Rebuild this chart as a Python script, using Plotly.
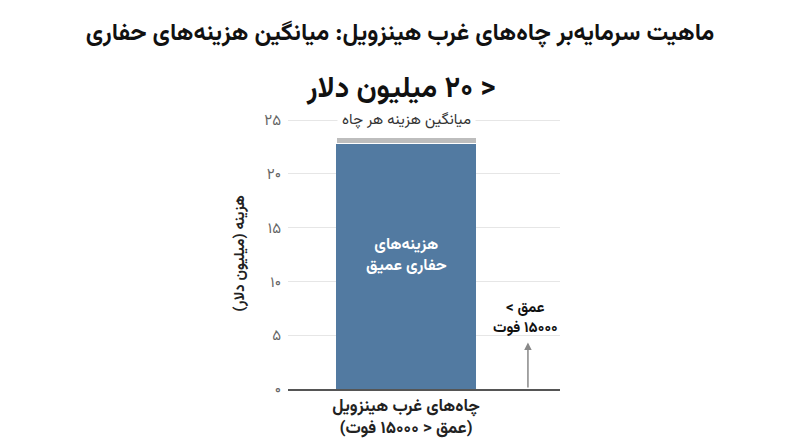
import plotly.graph_objects as go

# داده‌ها
title_text = "ماهیت سرمایه‌بر چاه‌های غرب هینزویل: میانگین هزینه‌های حفاری"
subtitle_text = "&lt; ۲۰ میلیون دلار"
categories = [0]
tick_lines = ["چاه‌های غرب هینزویل", "(عمق &lt; ۱۵۰۰۰ فوت)"]
deep_drilling = [22.8]
other_cost = [0.6]
y_ticks = [0, 5, 10, 15, 20, 25]
y_tick_text = ["۰", "۵", "۱۰", "۱۵", "۲۰", "۲۵"]
y_title = "هزینه (میلیون دلار)"
avg_label = "میانگین هزینه هر چاه"
bar_label = ["هزینه‌های", "حفاری عمیق"]
depth_label = ["عمق &gt;", "۱۵۰۰۰ فوت"]
depth_marker_x = 0.871
depth_marker_y = 4.33

FONT = "Vazirmatn, Noto Sans Arabic, DejaVu Sans, sans-serif"


def rtl(lines):
    # هر سطر در جهت راست به چپ
    if isinstance(lines, str):
        lines = [lines]
    return "<br>".join("\u202b" + s + "\u202c" for s in lines)


fig = go.Figure()
fig.add_trace(go.Bar(x=categories, y=deep_drilling, width=1,
                     marker=dict(color="#527aa1", line=dict(width=0)),
                     hoverinfo="skip"))
fig.add_trace(go.Bar(x=categories, y=other_cost, width=1,
                     marker=dict(color="#bdbdbd", line=dict(color="white", width=1)),
                     hoverinfo="skip"))

# صفحه ۸ پیکسل حاشیه دارد، پس همه چیز ۸ پیکسل بالاتر/چپ‌تر
fig.update_layout(
    barmode="stack",
    showlegend=False,
    width=800, height=447,
    margin=dict(l=280, r=248, t=110, b=66),
    paper_bgcolor="white", plot_bgcolor="white",
    font=dict(family=FONT, color="#222"),
    title=dict(text="<b>" + rtl(title_text) + "</b>",
               x=(400 - 8) / 800, xref="container", y=1 - 24 / 447, yref="container",
               xanchor="center", yanchor="middle",
               font=dict(size=24, color="#111", family=FONT)),
)

fig.update_xaxes(range=[-0.843, 1.1], tickvals=categories,
                 ticktext=["<b>" + rtl(tick_lines) + "</b>"],
                 showgrid=False, zeroline=False, showline=True, linecolor="#555", linewidth=1.5,
                 ticks="", tickfont=dict(size=17, color="#222", family=FONT))
fig.update_yaxes(range=[0, 25.2], tickvals=y_ticks, ticktext=y_tick_text,
                 showgrid=True, gridcolor="#e6e6e6", gridwidth=1, zeroline=False,
                 tickfont=dict(size=15, color="#666", family=FONT), ticklabelstandoff=6,
                 title=dict(text="<b>" + rtl(y_title) + "</b>", standoff=16,
                            font=dict(size=15, color="#222", family=FONT)))

fig.add_annotation(x=0.412, y=1.103, xref="paper", yref="paper", xanchor="center", yanchor="middle",
                   text="<b>" + rtl(subtitle_text) + "</b>", showarrow=False,
                   font=dict(size=29, color="#111", family=FONT))
fig.add_annotation(x=0, y=25, xref="x", yref="y", text=rtl(avg_label),
                   showarrow=False, bgcolor="white", borderpad=4,
                   font=dict(size=15, color="#333", family=FONT))
fig.add_annotation(x=0, y=12.4, xref="x", yref="y",
                   text="<b>" + rtl(bar_label) + "</b>",
                   showarrow=False, font=dict(size=16, color="white", family=FONT))
fig.add_annotation(x=depth_marker_x, y=depth_marker_y, ax=depth_marker_x, ay=0,
                   xref="x", yref="y", axref="x", ayref="y", text="",
                   showarrow=True, arrowhead=2, arrowsize=1, arrowwidth=1.5, arrowcolor="#888")
fig.add_annotation(x=0.85, y=6.56, xref="x", yref="y",
                   text="<b>" + rtl(depth_label) + "</b>",
                   showarrow=False, font=dict(size=15, color="#111", family=FONT))

fig.write_html("out.html")
